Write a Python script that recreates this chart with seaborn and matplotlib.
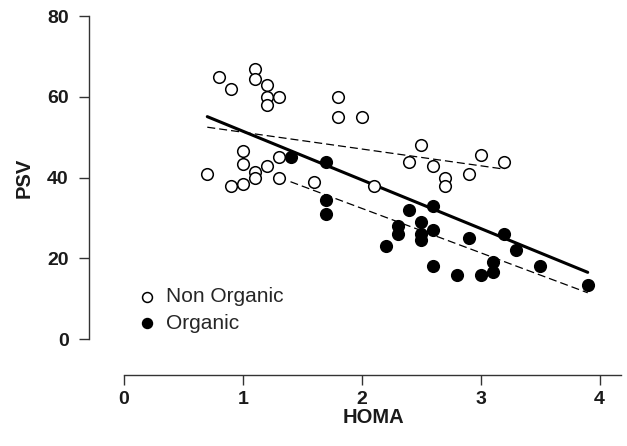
import numpy as np
import pandas as pd
import matplotlib
matplotlib.use("Agg")
import matplotlib.pyplot as plt
import seaborn as sns

sns.set_theme(style="ticks")
plt.rcParams["font.family"] = ["Liberation Sans", "DejaVu Sans"]

# ---- data ----
non_x = [0.8, 0.9, 1.1, 1.1, 1.2, 1.2, 1.3, 1.2, 1.8, 1.8, 2.0, 1.0, 1.0, 0.7,
         0.9, 1.0, 1.1, 1.1, 1.2, 1.3, 1.3, 1.6, 2.1, 2.5, 2.4, 2.6, 2.7, 2.7,
         2.9, 3.0, 3.2]
non_y = [65, 62, 67, 64.5, 63, 60, 60, 58, 60, 55, 55, 46.5, 43.5, 41,
         38, 38.5, 41.5, 40, 43, 45, 40, 39, 38, 48, 44, 43, 40, 38,
         41, 45.5, 44]
org_x = [1.4, 1.7, 1.7, 1.7, 2.2, 2.3, 2.3, 2.4, 2.5, 2.5, 2.5, 2.6, 2.6, 2.6,
         2.8, 2.9, 3.0, 3.1, 3.1, 3.2, 3.3, 3.5, 3.9]
org_y = [45, 44, 34.5, 31, 23, 28, 26, 32, 29, 26, 24.5, 33, 27, 18,
         16, 25, 16, 19, 16.5, 26, 22, 18, 13.5]
groups = ["Non Organic", "Organic"]
x_ticks = [0, 1, 2, 3, 4]
y_ticks = [0, 20, 40, 60, 80]

df = pd.DataFrame({
    "HOMA": non_x + org_x,
    "PSV": non_y + org_y,
    "Group": [groups[0]] * len(non_x) + [groups[1]] * len(org_x),
})
df_non = df[df["Group"] == groups[0]]
df_org = df[df["Group"] == groups[1]]

fig = plt.figure(figsize=(6.27, 4.46), dpi=100)
ax = fig.add_axes([89 / 627, 71 / 446, 532 / 627, 362.8 / 446])

dash = (0, (6.4, 3.2))
sns.regplot(data=df, x="HOMA", y="PSV", scatter=False, ci=None, color="black",
            line_kws=dict(lw=2.2, zorder=2), ax=ax)
sns.regplot(data=df_non, x="HOMA", y="PSV", scatter=False, ci=None, color="black",
            line_kws=dict(lw=0.9, ls=dash, zorder=2), ax=ax)
sns.regplot(data=df_org, x="HOMA", y="PSV", scatter=False, ci=None, color="black",
            line_kws=dict(lw=0.9, ls=dash, zorder=2), ax=ax)

sns.scatterplot(data=df_non, x="HOMA", y="PSV", s=70, facecolor="white",
                edgecolor="black", linewidth=1.1, label=groups[0], zorder=3, ax=ax)
sns.scatterplot(data=df_org, x="HOMA", y="PSV", s=70, color="black",
                edgecolor="black", linewidth=1.1, label=groups[1], zorder=3, ax=ax)

ax.set_xlim(-0.295, 4.18)
ax.set_ylim(-8.9, 81)
sns.despine(ax=ax)
ax.spines["left"].set_bounds(0, 80)
ax.spines["bottom"].set_bounds(0, 4.18)
for sp in ("left", "bottom"):
    ax.spines[sp].set_color("#333333")
    ax.spines[sp].set_linewidth(1.0)

ax.set_xticks(x_ticks)
ax.set_yticks(y_ticks)
ax.set_xticklabels([str(t) for t in x_ticks], fontweight="bold")
ax.set_yticklabels([str(t) for t in y_ticks], fontweight="bold")
ax.tick_params(axis="both", direction="out", length=7.5, width=1.0,
               color="#333333", labelsize=14, labelcolor="#1a1a1a")
ax.tick_params(axis="y", pad=7)
ax.tick_params(axis="x", pad=4)

ax.set_xlabel("HOMA", fontsize=14.5, fontweight="bold", color="#1a1a1a")
ax.set_ylabel("PSV", fontsize=14.5, fontweight="bold", color="#1a1a1a")
ax.xaxis.label.set_va("center")
ax.yaxis.label.set_va("center")
ax.xaxis.set_label_coords(0.534, -0.116)
ax.yaxis.set_label_coords(-0.122, 0.543)

ax.legend(loc="center left", bbox_to_anchor=(136.6 / 627, (446 - 310) / 446),
          bbox_transform=fig.transFigure, frameon=False, fontsize=15,
          handlelength=1.0, handletextpad=0.4, borderpad=0, borderaxespad=0,
          labelspacing=0.38, markerscale=0.85)

fig.savefig("out.png", dpi=100)
